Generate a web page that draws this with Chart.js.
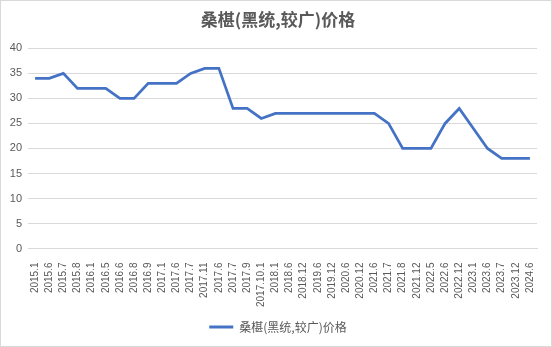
<!DOCTYPE html>
<html><head><meta charset="utf-8">
<script src="https://cdn.jsdelivr.net/npm/chart.js@4/dist/chart.umd.min.js"></script>
<style>
html,body{margin:0;padding:0;background:#fff;}
#wrap{position:absolute;left:0;top:0;width:550px;height:345px;border:1px solid #d9d9d9;}
</style></head><body>
<div id="wrap"><canvas id="c" width="550" height="345"></canvas></div>
<script>
const title = '桑椹(黑统,较广)价格';
const categories = ['2015.1','2015.6','2015.7','2015.8','2016.1','2016.5','2016.6','2016.8','2016.9','2017.1','2017.6','2017.7','2017.11','2017.6','2017.7','2017.9','2017.10.1','2018.1','2018.6','2018.12','2019.6','2019.12','2020.6','2020.12','2021.6','2021.7','2021.8','2021.12','2022.5','2022.6','2022.12','2023.1','2023.6','2023.7','2023.12','2024.6'];
const prices = [34,34,35,32,32,32,30,30,33,33,33,35,36,36,28,28,26,27,27,27,27,27,27,27,27,25,20,20,20,25,28,24,20,18,18,18];
const yTicks = [0,5,10,15,20,25,30,35,40];

new Chart(document.getElementById('c'), {
  type: 'line',
  data: {
    labels: categories.map((l,i)=>i),
    datasets: [{
      label: title,
      data: prices,
      borderColor: '#4472C4',
      backgroundColor: '#4472C4',
      borderWidth: 2.75,
      pointRadius: 0,
      tension: 0,
      fill: false
    }]
  },
  options: {
    responsive: false,
    animation: false,
    layout: { padding: { left: 18, right: 14, top: 2, bottom: 3 } },
    plugins: {
      title: {
        display: true, text: title, color: '#595959',
        font: { family: "'Noto Sans CJK SC'", size: 17, weight: 'bold' },
        padding: { top: 6, bottom: 19 }
      },
      legend: {
        position: 'bottom',
        labels: {
          color: '#595959',
          font: { family: "'Noto Sans CJK SC'", size: 12 },
          boxWidth: 24, boxHeight: 3,
          padding: 0,
          generateLabels: (chart) => Chart.defaults.plugins.legend.labels.generateLabels(chart).map(l => Object.assign(l, {lineWidth: 0, fillStyle: '#4472C4'}))
        }
      },
      tooltip: { enabled: false }
    },
    scales: {
      x: {
        type: 'category',
        offset: true,
        grid: { display: false, drawTicks: false },
        border: { display: true, color: '#d9d9d9' },
        afterFit: (s) => { s.paddingRight = 0; s.paddingLeft = 0; },
        ticks: {
          autoSkip: false, maxRotation: 90, minRotation: 90,
          color: '#595959', padding: 14,
          font: { family: "'Liberation Sans'", size: 10 },
          callback: (v, i) => categories[i]
        }
      },
      y: {
        min: 0, max: 40,
        afterBuildTicks: (axis) => { axis.ticks = yTicks.map(v => ({ value: v })); },
        afterFit: (s) => { s.width = 9; s._computeLabelArea = () => undefined; },
        grid: { color: '#d9d9d9', drawTicks: false },
        border: { display: false },
        ticks: {
          color: '#595959', padding: 6,
          font: { family: "'Liberation Sans'", size: 11 }
        }
      }
    }
  }
});
</script>
</body></html>
